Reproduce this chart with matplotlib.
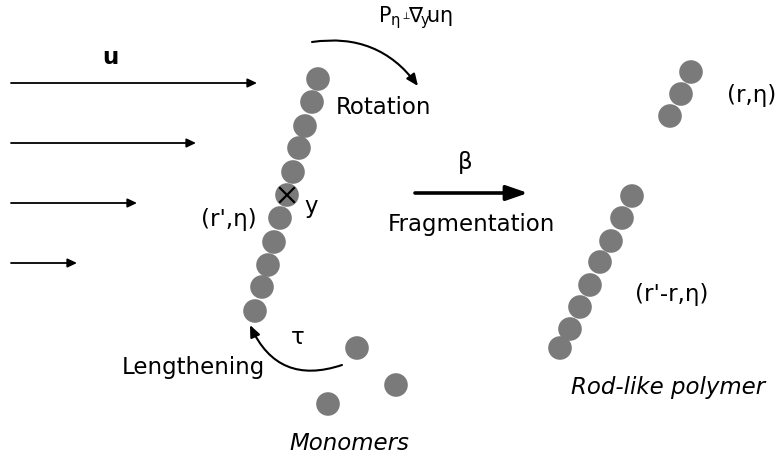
import matplotlib
matplotlib.use("Agg")
import matplotlib.pyplot as plt
from matplotlib.patches import Circle, FancyArrowPatch

plt.rcParams["mathtext.fontset"] = "dejavusans"
plt.rcParams["mathtext.default"] = "regular"

# monomer centres (pixel coordinates of the reference)
long_chain_x = [318, 312, 305, 299, 293, 287, 280, 274, 268, 262, 255]
long_chain_y = [80, 103, 127, 149, 173, 196, 219, 243, 266, 288, 312]
rod_x = [632, 622, 611, 600, 590, 580, 570, 560]
rod_y = [197, 219, 242, 263, 286, 308, 330, 349]
short_x = [691, 681, 670]
short_y = [73, 95, 117]
free_x = [357, 396, 328]
free_y = [349, 386, 405]

# shear flow arrows
flow_y = [84, 144, 204, 264]
flow_end = [257, 196, 137, 77]

GREY = "#7a7a7a"
R = 11.8

fig = plt.figure(figsize=(7.78, 4.56), dpi=100)
ax = fig.add_axes([0, 0, 1, 1])
ax.set_xlim(0, 778)
ax.set_ylim(456, 0)
ax.axis("off")


def beads(xs, ys):
    for x, y in zip(xs, ys):
        ax.add_patch(Circle((x, y), R, facecolor=GREY, edgecolor="none"))


def arrow(p0, p1, hl, hw, lw, rad=0.0):
    ax.add_patch(FancyArrowPatch(p0, p1, connectionstyle=f"arc3,rad={rad}",
                                 arrowstyle=f"-|>,head_length={hl},head_width={hw}",
                                 color="black", lw=lw, mutation_scale=1,
                                 shrinkA=0, shrinkB=0))


beads(long_chain_x, long_chain_y)
beads(rod_x, rod_y)
beads(short_x, short_y)
beads(free_x, free_y)

# cross on the marked bead
cx, cy = long_chain_x[5], long_chain_y[5]
ax.plot([cx - 7, cx + 7], [cy - 7, cy + 7], color="black", lw=1.6)
ax.plot([cx - 7, cx + 7], [cy + 7, cy - 7], color="black", lw=1.6)

for y, x1 in zip(flow_y, flow_end):
    arrow((11, y), (x1, y), 5.5, 2.6, 1.3)

# fragmentation arrow
arrow((415, 194), (528, 194), 13, 4.5, 2.6)

# rotation arrow
arrow((312, 43), (418, 87), 7, 3, 1.5, rad=-0.3)

# lengthening arrow
arrow((342, 366), (250, 326), 7, 3, 1.5, rad=-0.45)

fs = 16.5
ax.text(110, 58, "u", fontsize=fs, fontweight="bold", ha="center", va="center")
ax.text(378, 22, r"P$_{\eta^{\perp}}\!\nabla_{\!y}\!$u$\eta$", fontsize=15, va="baseline")
ax.text(384, 108, "Rotation", fontsize=fs, ha="center", va="center")
ax.text(229, 220, "(r',η)", fontsize=fs, ha="center", va="center")
ax.text(311, 207, "y", fontsize=fs, ha="center", va="center")
ax.text(465, 163, "β", fontsize=fs, ha="center", va="center")
ax.text(471, 225, "Fragmentation", fontsize=fs, ha="center", va="center")
ax.text(727, 96, "(r,η)", fontsize=fs, ha="left", va="center")
ax.text(672, 295, "(r'-r,η)", fontsize=fs, ha="center", va="center")
ax.text(298, 338, "τ", fontsize=fs, ha="center", va="center")
ax.text(193, 368, "Lengthening", fontsize=fs, ha="center", va="center")
ax.text(571, 388, "Rod-like polymer", fontsize=fs, style="italic", ha="left", va="center")
ax.text(349, 444, "Monomers", fontsize=fs, style="italic", ha="center", va="center")

fig.savefig("out.png", dpi=100)
